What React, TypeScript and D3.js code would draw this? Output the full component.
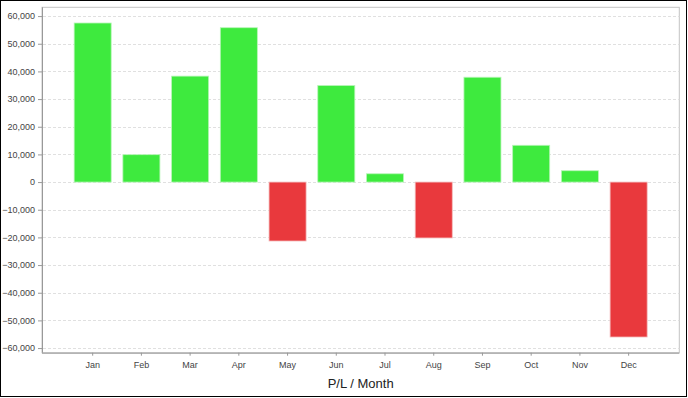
import * as d3 from "d3";
import { useRef, useEffect } from "react";

// monthly profit / loss
const months = ["Jan", "Feb", "Mar", "Apr", "May", "Jun", "Jul", "Aug", "Sep", "Oct", "Nov", "Dec"];
const profitLoss = [57500, 9900, 38300, 55800, -21300, 34900, 3000, -20200, 37900, 13300, 4100, -56000];
const yTicks = [60000, 50000, 40000, 30000, 20000, 10000, 0, -10000, -20000, -30000, -40000, -50000, -60000];

export default function App() {
    const ref = useRef<SVGSVGElement>(null);

    const width = 688;
    const height = 398;
    const plotLeft = 42;
    const plotRight = 679.3;
    const plotTop = 7.3;
    const plotBottom = 352.7;
    const tickFont = "'Liberation Sans', Arial, sans-serif";

    useEffect(() => {
        const svg = d3.select(ref.current);
        svg.selectAll("*").remove();

        // auto range with 5% margins on both ends
        const lo = d3.min(profitLoss)!;
        const hi = d3.max(profitLoss)!;
        const span = hi - lo;

        const y = d3.scaleLinear()
            .domain([lo - span * 0.05, hi + span * 0.05])
            .range([plotBottom, plotTop]);

        const x = d3.scaleBand()
            .domain(months)
            .range([plotLeft, plotRight])
            .paddingInner(0.24)
            .paddingOuter(0.66);

        // outer frame
        svg.append("rect")
            .attr("x", 0.5).attr("y", 0.5)
            .attr("width", width - 2).attr("height", height - 2)
            .attr("fill", "#fff")
            .attr("stroke", "#000");

        // plot outline (top / right)
        svg.append("rect")
            .attr("x", plotLeft).attr("y", plotTop)
            .attr("width", plotRight - plotLeft).attr("height", plotBottom - plotTop)
            .attr("fill", "#fff")
            .attr("stroke", "#c4c4c4");

        // gridlines
        svg.append("g")
            .selectAll("line")
            .data(yTicks)
            .join("line")
                .attr("x1", plotLeft + 1)
                .attr("x2", plotRight)
                .attr("y1", d => Math.round(y(d)) + 0.5)
                .attr("y2", d => Math.round(y(d)) + 0.5)
                .attr("stroke", "#e0e0e0")
                .attr("stroke-dasharray", "3,2");

        // bars
        svg.append("g")
            .selectAll("rect")
            .data(profitLoss)
            .join("rect")
                .attr("x", (d, i) => x(months[i])!)
                .attr("y", d => y(Math.max(0, d)))
                .attr("width", x.bandwidth())
                .attr("height", d => Math.abs(y(d) - y(0)))
                .attr("fill", d => d >= 0 ? "#3eea3e" : "#e9393d")
                .attr("stroke", d => d >= 0 ? "#b8f5b8" : "#f3b8b9")
                .attr("stroke-width", 0.8);

        // y axis
        const yAxis = svg.append("g")
            .attr("transform", `translate(${plotLeft},0)`)
            .call(d3.axisLeft(y).tickValues(yTicks).tickSize(4).tickPadding(3)
                .tickFormat(d => d3.format(",")(d as number)));
        yAxis.select(".domain").attr("stroke", "#999").attr("d", `M0.5,${plotTop}V${plotBottom}`);
        yAxis.selectAll(".tick line").attr("stroke", "#999");
        yAxis.selectAll("text")
            .attr("font-family", tickFont)
            .attr("font-size", 9)
            .attr("fill", "#444");

        // x axis
        const xAxis = svg.append("g")
            .attr("transform", `translate(0,${plotBottom})`)
            .call(d3.axisBottom(x).tickSize(3).tickPadding(6));
        xAxis.select(".domain").attr("stroke", "#999").attr("d", `M${plotLeft},0.5H${plotRight}`);
        xAxis.selectAll(".tick line").attr("stroke", "#999");
        xAxis.selectAll("text")
            .attr("font-family", tickFont)
            .attr("font-size", 9)
            .attr("fill", "#444");

        // axis title
        svg.append("text")
            .attr("x", (plotLeft + plotRight) / 2)
            .attr("y", 388)
            .attr("text-anchor", "middle")
            .attr("font-family", tickFont)
            .attr("font-size", 13)
            .attr("fill", "#222")
            .text("P/L / Month");
    }, []);

    return (
        <svg ref={ref} width={width} height={height}
            style={{ position: "absolute", left: 0, top: 0 }}></svg>
    );
}
